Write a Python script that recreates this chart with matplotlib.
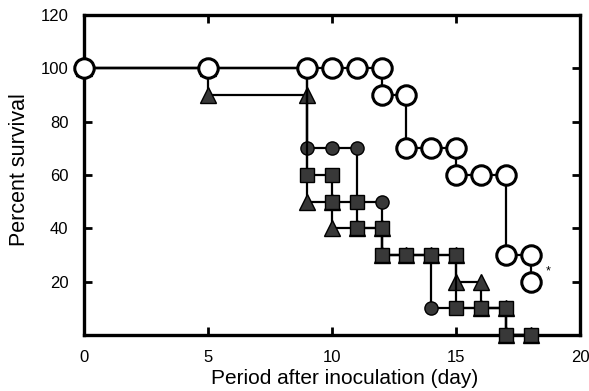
import matplotlib
matplotlib.use('Agg')
import matplotlib.pyplot as plt

plt.rcParams['font.family'] = ['Liberation Sans', 'DejaVu Sans']

# step paths: (day, percent survival) in drawing order
open_x = [0, 5, 9, 10, 11, 12, 12, 13, 13, 14, 15, 15, 16, 17, 17, 18, 18]
open_y = [100, 100, 100, 100, 100, 100, 90, 90, 70, 70, 70, 60, 60, 60, 30, 30, 20]

tri_x = [0, 5, 5, 9, 9, 10, 10, 11, 12, 12, 13, 14, 15, 15, 16, 16, 17, 17, 18]
tri_y = [100, 100, 90, 90, 50, 50, 40, 40, 40, 30, 30, 30, 30, 20, 20, 10, 10, 0, 0]

dot_x = [0, 5, 9, 9, 10, 11, 11, 12, 12, 13, 14, 14, 15, 16, 17, 17, 18]
dot_y = [100, 100, 100, 70, 70, 70, 50, 50, 30, 30, 30, 10, 10, 10, 10, 0, 0]

sq_x = [0, 5, 9, 9, 10, 10, 11, 11, 12, 12, 13, 14, 15, 15, 16, 17, 17, 18]
sq_y = [100, 100, 100, 60, 60, 50, 50, 40, 40, 30, 30, 30, 30, 10, 10, 10, 0, 0]

x_ticks = [0, 5, 10, 15, 20]
y_ticks = [20, 40, 60, 80, 100, 120]

fig = plt.figure(figsize=(5.89, 3.91), dpi=100)
ax = fig.add_axes([0.142, 0.143, 0.843, 0.819])

grey = '#383838'
ax.plot(tri_x, tri_y, color='black', lw=1.6, marker='^', ms=11,
        mfc=grey, mec='black', mew=1, zorder=2, clip_on=False)
ax.plot(dot_x, dot_y, color='black', lw=1.6, marker='o', ms=9.5,
        mfc=grey, mec='black', mew=1, zorder=3, clip_on=False)
ax.plot(sq_x, sq_y, color='black', lw=1.6, marker='s', ms=10.5,
        mfc=grey, mec='black', mew=1, zorder=4, clip_on=False)
ax.plot(open_x, open_y, color='black', lw=1.6, marker='o', ms=14,
        mfc='white', mec='black', mew=2.2, zorder=5, clip_on=False)

ax.text(18.6, 24, '*', fontsize=9, ha='left', va='center')

ax.set_xlim(0, 20)
ax.set_ylim(0, 120)
ax.set_xticks(x_ticks)
ax.set_yticks(y_ticks)
ax.tick_params(direction='in', length=6, width=2, labelsize=12,
               top=True, right=True, pad=11)
for s in ax.spines.values():
    s.set_linewidth(2.4)

ax.set_xlabel('Period after inoculation (day)', fontsize=15)
ax.set_ylabel('Percent survival', fontsize=15.5)
ax.xaxis.set_label_coords(0.525, -0.106)
ax.yaxis.set_label_coords(-0.108, 0.516)

fig.savefig('out.png', dpi=100)
